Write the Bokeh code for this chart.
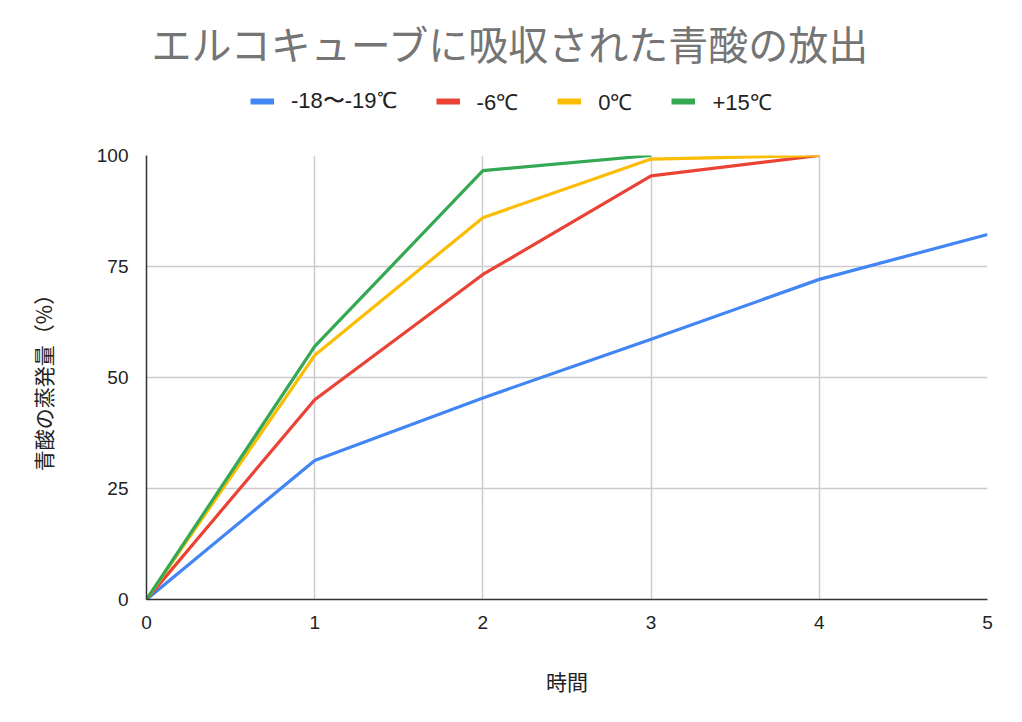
from bokeh.plotting import figure
from bokeh.models import Legend, LegendItem, Range1d, FixedTicker, Label
from bokeh.layouts import column
from bokeh.embed import file_html
from bokeh.resources import INLINE

hours = [0, 1, 2, 3, 4, 5]
s_m18 = [0, 31.3, 45.4, 58.6, 72.1, 82.2]
s_m6 = [0, 45.0, 73.2, 95.4, 100]
s_0 = [0, 55.0, 86.0, 99.2, 100]
s_15 = [0, 57.0, 96.6, 100]
names = ["-18〜-19℃", "-6℃", "0℃", "+15℃"]
series = [s_m18, s_m6, s_0, s_15]
colors = ["#4285F4", "#EA4335", "#FBBC04", "#34A853"]
x_ticks = [0, 1, 2, 3, 4, 5]
y_ticks = [0, 25, 50, 75, 100]
title_text = "エルコキューブに吸収された青酸の放出"
x_label = "時間"
y_label = "青酸の蒸発量（%）"

FONT = "Noto Sans CJK JP"
W = 1014
HEAD_H = 143
LEFT, RIGHT = 146, 27

# ---- header: title + legend (frame is aligned with the chart frame by the column) ----
head = figure(width=W, height=HEAD_H, output_backend="svg", toolbar_location=None,
              x_range=Range1d(LEFT, W - RIGHT), y_range=Range1d(0, HEAD_H),
              x_axis_type=None, y_axis_type=None,
              min_border_left=LEFT, min_border_right=RIGHT, min_border_top=0, min_border_bottom=0)
head.outline_line_color = None
head.grid.visible = False
head.add_layout(Label(x=151, y=HEAD_H - 42, text=title_text, text_baseline="middle",
                      text_align="left", text_font=FONT, text_font_size="40px",
                      text_color="#757575"))
items = []
for name, vals, c in zip(names, series, colors):
    r = head.line(hours[:len(vals)], vals, line_color=c, line_width=6, visible=False)
    items.append(LegendItem(label=name, renderers=[r]))
legend = Legend(items=items, orientation="horizontal", location=(250 - LEFT, HEAD_H - 116),
                label_text_font="Liberation Sans", label_text_font_size="22px",
                label_text_color="#222222", glyph_width=24, glyph_height=20,
                label_standoff=17, spacing=39, padding=0, margin=0,
                border_line_color=None, background_fill_alpha=0)
head.add_layout(legend, "center")

# ---- main chart ----
p = figure(width=W, height=714 - HEAD_H, output_backend="svg", toolbar_location=None,
           x_range=Range1d(0, 5), y_range=Range1d(0, 100),
           min_border_left=LEFT, min_border_right=RIGHT, min_border_top=12, min_border_bottom=115)
p.outline_line_color = None
p.grid.grid_line_color = "#cccccc"
p.grid.grid_line_width = 1.5

for vals, c in zip(series, colors):
    p.line(hours[:len(vals)], vals, line_color=c, line_width=3.2)

p.xaxis.ticker = FixedTicker(ticks=x_ticks)
p.yaxis.ticker = FixedTicker(ticks=y_ticks)
for ax in (p.xaxis[0], p.yaxis[0]):
    ax.major_tick_line_color = None
    ax.minor_tick_line_color = None
    ax.axis_line_color = "#333333"
    ax.axis_line_width = 1.5
    ax.major_label_text_font = "Liberation Sans"
    ax.major_label_text_font_size = "19px"
    ax.major_label_text_color = "#222222"
    ax.axis_label_text_font = FONT
    ax.axis_label_text_font_size = "21px"
    ax.axis_label_text_font_style = "normal"
    ax.axis_label_text_color = "#222222"
p.xaxis.major_label_standoff = 10
p.yaxis.major_label_standoff = 12
p.xaxis.axis_label = x_label
p.yaxis.axis_label = y_label
p.xaxis.axis_label_standoff = 34
p.yaxis.axis_label_standoff = 36

layout = column(head, p, spacing=0)
open("out.html", "w").write(file_html(layout, INLINE))
